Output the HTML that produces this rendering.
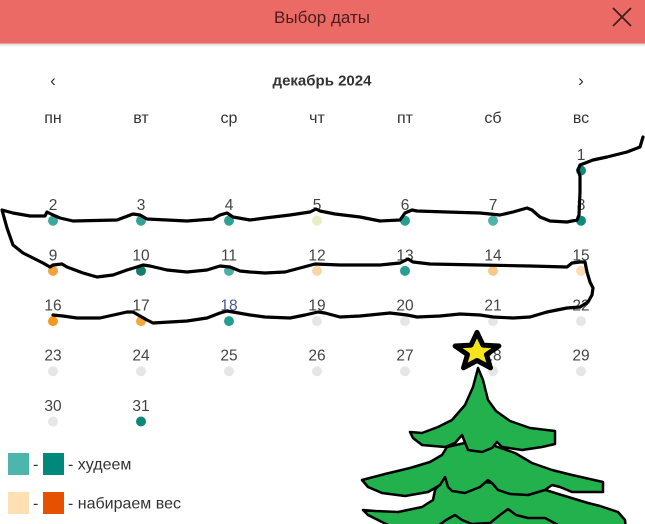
<!DOCTYPE html>
<html><head><meta charset="utf-8"><style>
html,body{margin:0;padding:0;background:#fff;}
body{width:645px;height:524px;overflow:hidden;position:relative;}
svg{position:absolute;left:0;top:0;}
text{font-family:"Liberation Sans",sans-serif;}
</style></head><body>
<svg width="645" height="524" viewBox="0 0 645 524" xmlns="http://www.w3.org/2000/svg">
<defs>
<linearGradient id="sh" x1="0" y1="0" x2="0" y2="1"><stop offset="0" stop-color="#000" stop-opacity="0.18"/><stop offset="1" stop-color="#000" stop-opacity="0"/></linearGradient>
</defs>
<rect x="0" y="0" width="645" height="524" fill="#fff"/>
<!-- header -->
<rect x="0" y="43" width="645" height="4" fill="url(#sh)"/>
<rect x="0" y="0" width="645" height="43.5" fill="#ec6a65"/>
<text x="322" y="23" font-size="17" text-anchor="middle" fill="#4a1d1d">Выбор даты</text>
<path d="M613 8 L631 26 M631 8 L613 26" stroke="#3a2020" stroke-width="1.8" fill="none"/>
<!-- month nav -->
<text x="53" y="86" font-size="17" text-anchor="middle" fill="#333">‹</text>
<text x="322" y="85.5" font-size="15" font-weight="bold" text-anchor="middle" fill="#333">декабрь 2024</text>
<text x="581" y="86" font-size="17" text-anchor="middle" fill="#333">›</text>
<!-- weekdays -->
<g font-size="16" text-anchor="middle" fill="#333">
<text x="53" y="123">пн</text><text x="141" y="123">вт</text><text x="229" y="123">ср</text><text x="317" y="123">чт</text><text x="405" y="123">пт</text><text x="493" y="123">сб</text><text x="581" y="123">вс</text>
</g>
<!-- day numbers -->
<g font-size="15.5" text-anchor="middle" fill="#444">
<text x="581" y="160">1</text>
<text x="53" y="210.1">2</text><text x="141" y="210.1">3</text><text x="229" y="210.1">4</text><text x="317" y="210.1">5</text><text x="405" y="210.1">6</text><text x="493" y="210.1">7</text><text x="581" y="210.1">8</text>
<text x="53" y="260.3">9</text><text x="141" y="260.3">10</text><text x="229" y="260.3">11</text><text x="317" y="260.3">12</text><text x="405" y="260.3">13</text><text x="493" y="260.3">14</text><text x="581" y="260.3">15</text>
<text x="53" y="310.5">16</text><text x="141" y="310.5">17</text><text x="229" y="310.5" fill="#4a5596">18</text><text x="317" y="310.5">19</text><text x="405" y="310.5">20</text><text x="493" y="310.5">21</text><text x="581" y="310.5">22</text>
<text x="53" y="360.7">23</text><text x="141" y="360.7">24</text><text x="229" y="360.7">25</text><text x="317" y="360.7">26</text><text x="405" y="360.7">27</text><text x="493" y="360.7">28</text><text x="581" y="360.7">29</text>
<text x="53" y="410.9">30</text><text x="141" y="410.9">31</text>
</g>
<!-- dots -->
<g>
<circle cx="581" cy="170.5" r="5" fill="#13887a"/>
<circle cx="53" cy="220.7" r="5" fill="#3fa89c"/>
<circle cx="141" cy="220.7" r="5" fill="#33a395"/>
<circle cx="229" cy="220.7" r="5" fill="#2fa192"/>
<circle cx="317" cy="220.7" r="5" fill="#e6efc5"/>
<circle cx="405" cy="220.7" r="5" fill="#289e8f"/>
<circle cx="493" cy="220.7" r="5" fill="#4fb3a7"/>
<circle cx="581" cy="220.7" r="5" fill="#0d8a7a"/>
<circle cx="53" cy="270.9" r="5" fill="#f2a23a"/>
<circle cx="141" cy="270.9" r="5" fill="#137e6e"/>
<circle cx="229" cy="270.9" r="5" fill="#4cb0a5"/>
<circle cx="317" cy="270.9" r="5" fill="#f8d5a8"/>
<circle cx="405" cy="270.9" r="5" fill="#27a092"/>
<circle cx="493" cy="270.9" r="5" fill="#f6c88a"/>
<circle cx="581" cy="270.9" r="5" fill="#fbdcb5"/>
<circle cx="53" cy="321.1" r="5" fill="#f39a1e"/>
<circle cx="141" cy="321.1" r="5" fill="#f3a83b"/>
<circle cx="229" cy="321.1" r="5" fill="#249f8f"/>
<circle cx="317" cy="321.1" r="5" fill="#e6e6e6"/>
<circle cx="405" cy="321.1" r="5" fill="#e6e6e6"/>
<circle cx="493" cy="321.1" r="5" fill="#e6e6e6"/>
<circle cx="581" cy="321.1" r="5" fill="#e6e6e6"/>
<circle cx="53" cy="371.3" r="5" fill="#e6e6e6"/>
<circle cx="141" cy="371.3" r="5" fill="#e6e6e6"/>
<circle cx="229" cy="371.3" r="5" fill="#e6e6e6"/>
<circle cx="317" cy="371.3" r="5" fill="#e6e6e6"/>
<circle cx="405" cy="371.3" r="5" fill="#e6e6e6"/>
<circle cx="493" cy="371.3" r="5" fill="#e6e6e6"/>
<circle cx="581" cy="371.3" r="5" fill="#e6e6e6"/>
<circle cx="53" cy="421.5" r="5" fill="#e6e6e6"/>
<circle cx="141" cy="421.5" r="5" fill="#0e877a"/>
</g>
<!-- hand drawn line -->
<polyline fill="none" stroke="#000" stroke-width="3.2" stroke-linejoin="round" stroke-linecap="round" points="
643,137 640,147 627,152 607,157 593,160 580,165 578,170 580,176 580,192 579,215 577,220 567,222 550,221 540,217 532,210 527,208 513,212 500,215 480,213 447,212 417,211 412,210 405,213 400,220 380,221
360,217 335,214 320,211 316,209 310,212 290,215 265,218 250,220
233,217 227,213 220,215 213,219 187,221 147,219 140,215 133,214 117,220 73,221 60,218 53,215 47,212 45,216 30,216 13,213 2,210 7,228 13,245 23,253 43,263 50,267 53,265 62,264 67,267 83,273 97,277 113,275 127,270 137,267 143,265 150,266 167,270 187,272 207,270 220,266 230,267 240,271 250,272
265,273 285,272 300,268 315,264 340,265 380,265
400,263 408,259 413,262 430,264 480,265 530,266 567,267 572,263 580,262 585,262 587,272 590,282 593,288 592,295 588,302 580,307 567,308 547,312 530,317 513,318 493,317 480,315 460,314 440,316 417,317 407,315 390,313 380,314
360,316 340,317 325,313 318,312 305,315 290,318 265,317 250,315
233,312 227,311 220,313 207,318 187,321 153,323 147,320 133,312 127,312 100,318 77,318 63,316 53,315"/>
<!-- legend -->
<rect x="8" y="453" width="21" height="22" fill="#4db6ac"/>
<text x="33" y="469.5" font-size="16" fill="#333">-</text>
<rect x="43" y="453" width="21" height="22" fill="#00897b"/>
<text x="68" y="469.5" font-size="16" fill="#333">- худеем</text>
<rect x="8" y="492" width="21" height="22" fill="#ffe0b2"/>
<text x="33" y="508.5" font-size="16" fill="#333">-</text>
<rect x="43" y="492" width="21" height="22" fill="#e65100"/>
<text x="68" y="508.5" font-size="16" fill="#333">- набираем вес</text>
<!-- tree -->
<g fill="#22b14c" stroke="#000" stroke-width="2.5" stroke-linejoin="round">
<!-- tier 3 -->
<path d="M450,480 L445,477 L435,490 L433,500 L422,507 L398,512 L375,511 L363,510 L368,515 L378,520 L388,525 L388,530 L626,530 L625,520 L618,512 L600,506 L588,503 L555,493 L530,485 Z"/>
<!-- tier 2 -->
<path d="M362,480 L385,474 L410,468 L430,462 L442,455 L447,447 L478,440 L515,453 L532,463 L552,470 L572,475 L603,482 L603,492 L572,492 L560,487 L552,485 L545,490 L528,495 L510,494 L498,490 L492,483 L488,480 L480,487 L465,493 L452,491 L448,487 L445,477 L440,485 L435,488 L428,492 L405,496 L382,493 L368,487 Z"/>
<!-- tier 1 -->
<path d="M478,368 L483,380 L488,400 L496,411 L510,421 L530,428 L555,431 L555,444 L542,447 L522,450 L502,447 L497,442 L492,448 L482,452 L468,450 L462,435 L455,443 L445,447 L422,445 L413,438 L410,432 L422,433 L438,427 L452,420 L465,405 L473,387 L477,372 Z"/>
</g>
<path d="M438,526 L446,520 L455,515 L462,520 L472,524 L490,523 L500,515 L508,509 L516,515 L528,518 L545,518 L558,525" fill="none" stroke="#000" stroke-width="2.5" stroke-linejoin="round"/>
<!-- star -->
<polygon points="477,332.4 482.9,345.1 498.9,346 486.5,354.6 490.5,367.8 477,360.5 463.5,367.8 467.5,354.6 455.1,346 471.1,345.1" fill="#f4e41c" stroke="#000" stroke-width="5" stroke-linejoin="round"/>
</svg>
</body></html>
